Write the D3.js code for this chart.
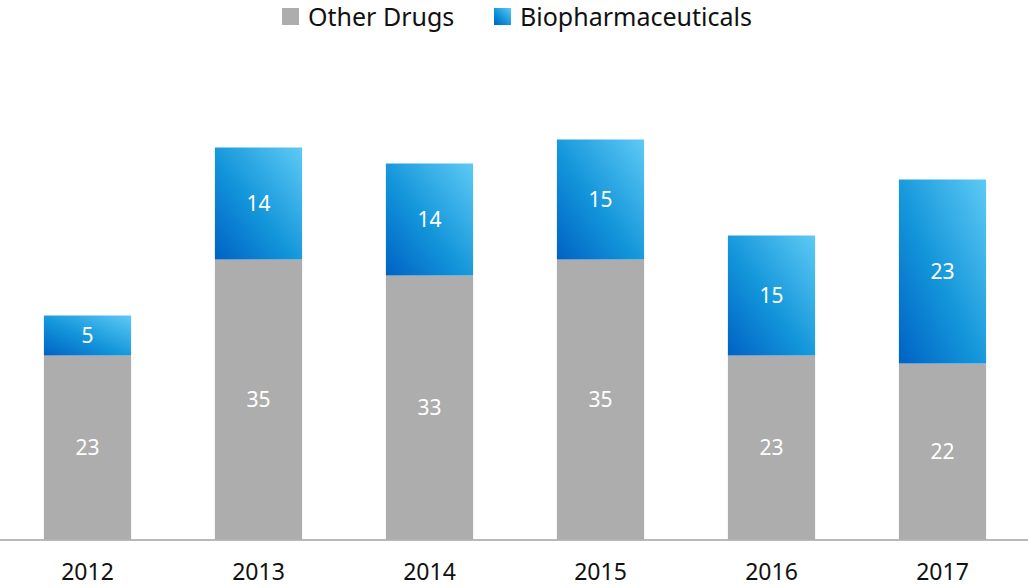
<!DOCTYPE html>
<html>
<head>
    <meta charset="utf-8">
    <script src="https://d3js.org/d3.v7.min.js"></script>
    <style>
        body { margin: 0; background: #fff; }
        text { font-family: 'Noto Sans', sans-serif; }
    </style>
</head>
<body>
<div id="chart"></div>
<script>
    // data
    var years = ["2012", "2013", "2014", "2015", "2016", "2017"];
    var otherDrugs = [23, 35, 33, 35, 23, 22];
    var biopharma = [5, 14, 14, 15, 15, 23];
    var seriesNames = ["Other Drugs", "Biopharmaceuticals"];

    var width = 1028, height = 588;
    var baseline = 539.5;

    var svg = d3.select("#chart").append("svg")
        .attr("width", width)
        .attr("height", height);

    // blue gradient, dark bottom-left to light top-right
    var grad = svg.append("defs").append("linearGradient")
        .attr("id", "blueGrad")
        .attr("x1", "0").attr("y1", "1")
        .attr("x2", "1").attr("y2", "0");
    grad.append("stop").attr("offset", "0%").attr("stop-color", "#0062c4");
    grad.append("stop").attr("offset", "45%").attr("stop-color", "#1395da");
    grad.append("stop").attr("offset", "100%").attr("stop-color", "#5ecaf5");

    var x = d3.scaleBand()
        .domain(years)
        .range([2, 1028])
        .paddingInner(0.49)
        .paddingOuter(0.245);

    var y = d3.scaleLinear()
        .domain([0, 60])
        .range([baseline, baseline - 8 * 60]);

    var rows = years.map(function (yr, i) {
        return { year: yr, other: otherDrugs[i], bio: biopharma[i] };
    });

    // gray segments
    svg.selectAll(".other")
        .data(rows).enter()
        .append("rect")
        .attr("class", "other")
        .attr("x", function (d) { return x(d.year); })
        .attr("width", x.bandwidth())
        .attr("y", function (d) { return y(d.other); })
        .attr("height", function (d) { return y(0) - y(d.other); })
        .style("fill", "#adadad");

    // blue segments
    svg.selectAll(".bio")
        .data(rows).enter()
        .append("rect")
        .attr("class", "bio")
        .attr("x", function (d) { return x(d.year); })
        .attr("width", x.bandwidth())
        .attr("y", function (d) { return y(d.other + d.bio); })
        .attr("height", function (d) { return y(d.other) - y(d.other + d.bio); })
        .style("fill", "url(#blueGrad)");

    // value labels
    svg.selectAll(".lblOther")
        .data(rows).enter()
        .append("text")
        .attr("x", function (d) { return x(d.year) + x.bandwidth() / 2; })
        .attr("y", function (d) { return (y(0) + y(d.other)) / 2; })
        .attr("dy", "0.36em")
        .style("text-anchor", "middle")
        .style("font-size", "21px")
        .style("fill", "#fff")
        .text(function (d) { return d.other; });

    svg.selectAll(".lblBio")
        .data(rows).enter()
        .append("text")
        .attr("x", function (d) { return x(d.year) + x.bandwidth() / 2; })
        .attr("y", function (d) { return (y(d.other) + y(d.other + d.bio)) / 2; })
        .attr("dy", "0.36em")
        .style("text-anchor", "middle")
        .style("font-size", "21px")
        .style("fill", "#fff")
        .text(function (d) { return d.bio; });

    // x axis
    var axis = svg.append("g")
        .attr("transform", "translate(0," + baseline + ")")
        .call(d3.axisBottom(x).tickSize(0));
    axis.select(".domain").remove();
    axis.selectAll("text")
        .attr("y", 40)
        .attr("dy", null)
        .style("font-size", "23px")
        .style("fill", "#111")
        .style("font-family", "'Noto Sans', sans-serif");
    svg.append("line")
        .attr("x1", 0).attr("x2", width)
        .attr("y1", baseline + 0.5).attr("y2", baseline + 0.5)
        .style("stroke", "#a3a3a3")
        .style("stroke-width", 1.5);

    // legend
    var legendX = [282, 494];
    var legend = svg.selectAll(".legend")
        .data(seriesNames).enter()
        .append("g")
        .attr("class", "legend")
        .attr("transform", function (d, i) { return "translate(" + legendX[i] + ",8)"; });
    legend.append("rect")
        .attr("width", 17).attr("height", 17)
        .style("fill", function (d, i) { return i === 0 ? "#adadad" : "url(#blueGrad)"; });
    legend.append("text")
        .attr("x", 26).attr("y", 18)
        .style("font-size", "25px")
        .style("fill", "#111")
        .text(function (d) { return d; });
</script>
</body>
</html>
